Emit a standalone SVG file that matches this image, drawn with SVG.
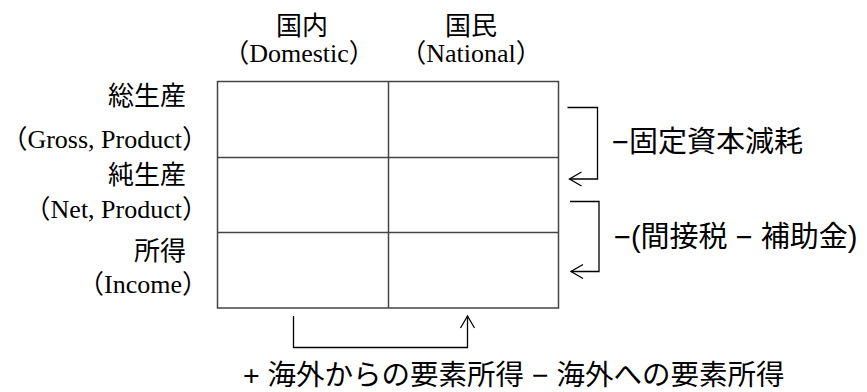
<svg xmlns="http://www.w3.org/2000/svg" width="867" height="392" viewBox="0 0 867 392">
<style>
.serif{font-family:"Liberation Serif","Noto Sans CJK JP",serif;font-size:26px;fill:#000}
.sans{font-family:"Liberation Sans","Noto Sans CJK JP",sans-serif;font-size:29px;fill:#000}
.bottom{font-family:"Liberation Sans","Noto Sans CJK JP",sans-serif;font-size:28.5px;fill:#000}
.grid{fill:none;stroke:#444;stroke-width:1.5}
.conn{fill:none;stroke:#000;stroke-width:1.3}
</style>
<defs>
<marker id="arr" markerUnits="userSpaceOnUse" markerWidth="16" markerHeight="18" viewBox="0 0 16 18" refX="14" refY="9" orient="auto">
<path d="M2,2 L14,9 L2,16" fill="none" stroke="#000" stroke-width="1.3"/>
</marker>
</defs>
<rect width="867" height="392" fill="#fff"/>
<g id="headers">
<text class="serif" x="302" y="35" text-anchor="middle">国内</text>
<text class="serif" x="299" y="62" text-anchor="middle">（Domestic）</text>
<text class="serif" x="471" y="35" text-anchor="middle">国民</text>
<text class="serif" x="471" y="62" text-anchor="middle">（National）</text>
</g>
<g id="row-labels">
<text class="serif" x="186" y="105" text-anchor="end">総生産</text>
<text class="serif" x="208" y="148" text-anchor="end">（Gross, Product）</text>
<text class="serif" x="186" y="184" text-anchor="end">純生産</text>
<text class="serif" x="208" y="218" text-anchor="end">（Net, Product）</text>
<text class="serif" x="186" y="260" text-anchor="end">所得</text>
<text class="serif" x="208" y="293" text-anchor="end">（Income）</text>
</g>
<g id="table">
<rect class="grid" x="217.5" y="81.5" width="341" height="226.5"/>
<line class="grid" x1="388.5" y1="81.5" x2="388.5" y2="308"/>
<line class="grid" x1="217.5" y1="157.5" x2="558.5" y2="157.5"/>
<line class="grid" x1="217.5" y1="232.5" x2="558.5" y2="232.5"/>
</g>
<g id="connectors">
<path class="conn" d="M567.5,107.5 H597.5 V179 H569.5" marker-end="url(#arr)"/>
<path class="conn" d="M570,201.5 H599 V271.5 H571" marker-end="url(#arr)"/>
<path class="conn" d="M293.5,316 V347.5 H467.5 V316" marker-end="url(#arr)"/>
</g>
<g id="side-labels">
<text class="sans" x="612" y="152">−固定資本減耗</text>
<text class="sans" x="614" y="247">−(間接税 − 補助金)</text>
<text class="bottom" x="243" y="385">+ 海外からの要素所得 − 海外への要素所得</text>
</g>
</svg>
